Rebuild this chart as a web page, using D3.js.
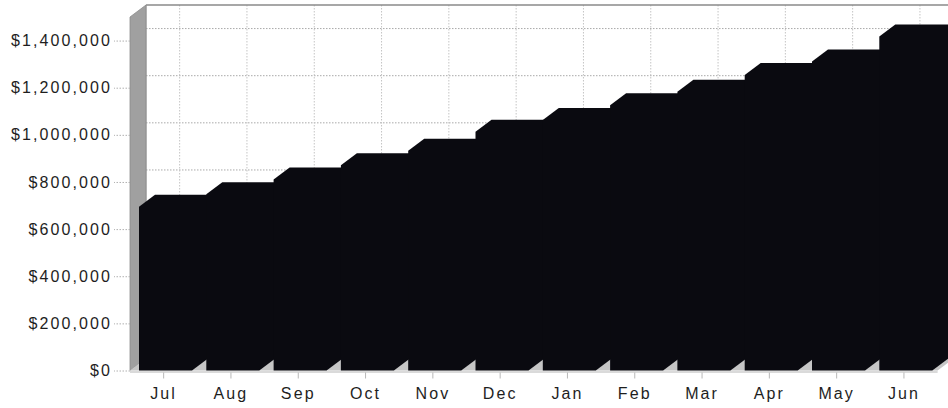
<!DOCTYPE html>
<html>
<head>
<meta charset="utf-8">
<script src="https://cdn.jsdelivr.net/npm/d3@7"></script>
<style>
  html, body { margin: 0; padding: 0; background: #ffffff; }
  svg { display: block; }
  .lbl { font-family: "Liberation Sans", Arial, sans-serif; font-size: 16px; letter-spacing: 2.1px; fill: #1e1e1e; }
</style>
</head>
<body>
<svg id="chart" width="948" height="408"></svg>
<script>
// Monthly totals, July through June
const months = ["Jul", "Aug", "Sep", "Oct", "Nov", "Dec", "Jan", "Feb", "Mar", "Apr", "May", "Jun"];
const totals = [695000, 748000, 810000, 871000, 932000, 1013000, 1063000, 1126000, 1183000, 1254000, 1311000, 1417000];
const yTicks = [0, 200000, 400000, 600000, 800000, 1000000, 1200000, 1400000];

const svg = d3.select("#chart");

// 3-D depth offset (receding up and to the right)
const DX = 16, DY = 12;

const plotLeft = 130, plotRight = 937.6;
const y = d3.scaleLinear().domain([0, 1500000]).range([370.5, 17]);
const xAxisScale = d3.scaleBand().domain(months).range([plotLeft, plotRight]).padding(0);
const xBar = d3.scaleBand().domain(months).range([139, 932.3]).paddingInner(0.2125).paddingOuter(0);

const y0 = y(0), yMax = y(1500000);
const data = months.map((m, i) => ({ month: m, value: totals[i] }));

// back wall
svg.append("rect")
  .attr("x", plotLeft + DX).attr("y", yMax - DY)
  .attr("width", 948 - plotLeft - DX + 20).attr("height", y0 - yMax)
  .attr("fill", "#ffffff");

// back wall gridlines: horizontal at value ticks
svg.append("g").selectAll("line").data(yTicks.filter(v => v > 0)).join("line")
  .attr("x1", plotLeft + DX).attr("x2", 948)
  .attr("y1", d => y(d) - DY).attr("y2", d => y(d) - DY)
  .attr("stroke", "#a9a9a9").attr("stroke-width", 1).attr("stroke-dasharray", "1.5,1.5");

// back wall gridlines: vertical at category centres
svg.append("g").selectAll("line").data(months).join("line")
  .attr("x1", d => xAxisScale(d) + xAxisScale.bandwidth() / 2 + DX)
  .attr("x2", d => xAxisScale(d) + xAxisScale.bandwidth() / 2 + DX)
  .attr("y1", yMax - DY).attr("y2", y0 - DY)
  .attr("stroke", "#c4c4c4").attr("stroke-width", 1).attr("stroke-dasharray", "1.5,1.5");

// back wall top and left edges
svg.append("line")
  .attr("x1", plotLeft + DX).attr("x2", 948)
  .attr("y1", yMax - DY).attr("y2", yMax - DY)
  .attr("stroke", "#8a8a8a").attr("stroke-width", 1.5);
svg.append("line")
  .attr("x1", plotLeft + DX).attr("x2", plotLeft + DX)
  .attr("y1", yMax - DY).attr("y2", y0 - DY)
  .attr("stroke", "#9a9a9a").attr("stroke-width", 1);

// left side wall
svg.append("path")
  .attr("d", `M${plotLeft},${y0} L${plotLeft},${yMax} L${plotLeft + DX},${yMax - DY} L${plotLeft + DX},${y0 - DY} Z`)
  .attr("fill", "#a0a0a0").attr("stroke", "#8c8c8c").attr("stroke-width", 0.8);

// floor
svg.append("path")
  .attr("d", `M${plotLeft},${y0} L${plotRight},${y0} L${plotRight + DX},${y0 - DY} L${plotLeft + DX},${y0 - DY} Z`)
  .attr("fill", "#c6c6c6");
svg.append("rect")
  .attr("x", plotLeft).attr("y", y0).attr("width", plotRight - plotLeft).attr("height", 2.5)
  .attr("fill", "#dadada");

// bars: one solid outline covering front, top and right side faces
svg.append("g").selectAll("path").data(data).join("path")
  .attr("d", d => {
    const x0 = xBar(d.month), x1 = x0 + xBar.bandwidth(), yt = y(d.value);
    return `M${x0},${y0} L${x0},${yt} L${x0 + DX},${yt - DY} L${x1 + DX},${yt - DY} ` +
           `L${x1 + DX},${y0 - DY} L${x1},${y0} Z`;
  })
  .attr("fill", "#0a0a10");

// value axis
const yAxis = svg.append("g")
  .attr("transform", `translate(${plotLeft},0)`)
  .call(d3.axisLeft(y).tickValues(yTicks).tickFormat(d3.format("$,")).tickSize(16).tickPadding(2));
yAxis.select(".domain").remove();
yAxis.selectAll(".tick line").attr("stroke", "#b0b0b0").attr("stroke-dasharray", "1.5,1.5");
yAxis.selectAll(".tick text").attr("class", "lbl").attr("font-size", null).attr("font-family", null).attr("fill", null);

// category axis
const xAxis = svg.append("g")
  .attr("transform", `translate(0,${y0 + 2})`)
  .call(d3.axisBottom(xAxisScale).tickSize(6).tickPadding(9));
xAxis.select(".domain").remove();
xAxis.selectAll(".tick line").attr("stroke", "#b8b8b8");
xAxis.selectAll(".tick text").attr("class", "lbl").attr("font-size", null).attr("font-family", null).attr("fill", null);
</script>
</body>
</html>
